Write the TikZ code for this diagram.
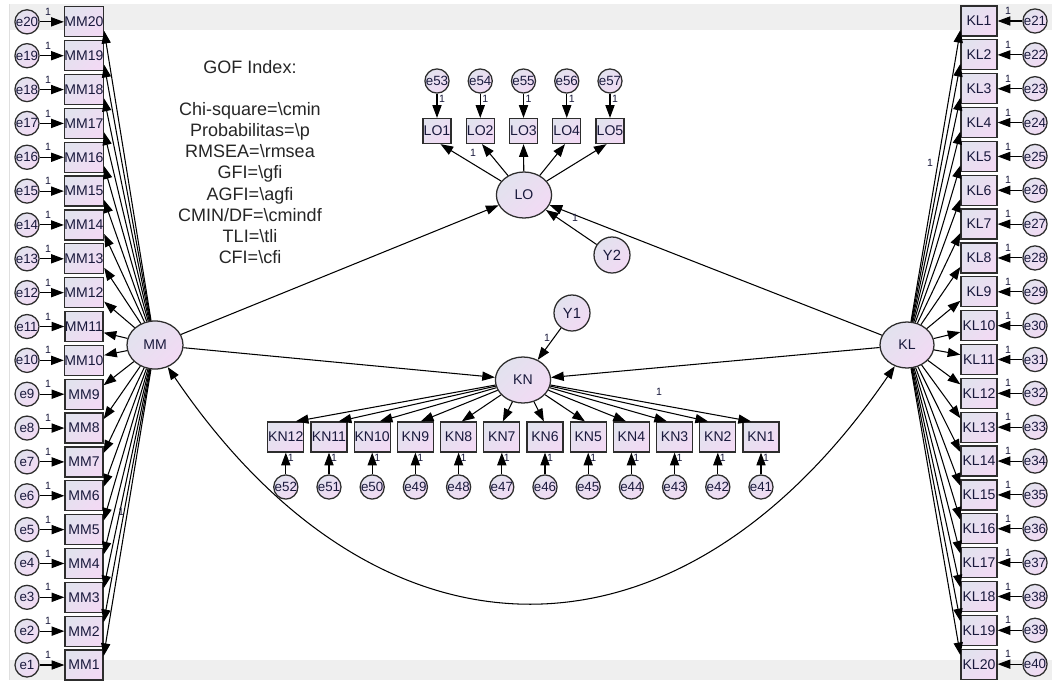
\documentclass[tikz,border=0pt]{standalone}
\usepackage{fontspec}
\setmainfont{Liberation Sans}
\usetikzlibrary{shapes.geometric,arrows.meta,calc}
\definecolor{fillA}{RGB}{226,226,238}
\definecolor{fillB}{RGB}{242,218,244}
\definecolor{bord}{RGB}{45,45,45}
\definecolor{band}{RGB}{239,239,239}
\definecolor{txt}{RGB}{25,25,60}
\tikzset{
  shadefill/.style={draw=bord, line width=0.9pt, top color=fillA, bottom color=fillB, shading angle=45, inner sep=0pt, text=txt, font=\fontsize{10}{11}\selectfont},
  mbox/.style={shadefill, rectangle, minimum width=0.95cm, minimum height=0.75cm},
  kbox/.style={shadefill, rectangle, minimum width=0.9cm, minimum height=0.75cm},
  lbox/.style={shadefill, rectangle, minimum width=0.7cm, minimum height=0.625cm},
  errc/.style={shadefill, circle, minimum size=0.6cm, font=\fontsize{9.5}{10}\selectfont},
  distc/.style={shadefill, circle, minimum size=0.9cm, font=\fontsize{10.5}{11}\selectfont},
  lat/.style={shadefill, ellipse, minimum width=1.38cm, minimum height=1.15cm},
  arr/.style={-{Triangle[length=9pt,width=6.5pt]}, line width=0.75pt, draw=black},
  dbl/.style={{Triangle[length=9pt,width=6.5pt]}-{Triangle[length=9pt,width=6.5pt]}, line width=0.75pt, draw=black},
  one/.style={font=\fontsize{7.5}{8}\selectfont, inner sep=0pt, text=txt},
}
\begin{document}
\begin{tikzpicture}[x=0.025cm, y=-0.025cm]
\useasboundingbox (0,0) rectangle (1052,680);
\fill[white] (0,0) rectangle (1052,680);
\fill[band] (9,4) rectangle (1052,30);
\fill[band] (9,660) rectangle (1052,680);
\draw[gray!25, line width=0.5pt] (9,4) -- (9,680);

% GOF text
\node[align=center, font=\fontsize{12.8}{15}\selectfont, text=black!85, inner sep=0pt] (gof) at (250,162)
  {GOF Index:\\ \mbox{}\\ Chi-square=\textbackslash cmin\\ Probabilitas=\textbackslash p\\ RMSEA=\textbackslash rmsea\\ GFI=\textbackslash gfi\\ AGFI=\textbackslash agfi\\ CMIN/DF=\textbackslash cmindf\\ TLI=\textbackslash tli\\ CFI=\textbackslash cfi};

% latent variables
\node[lat, minimum width=1.4cm, minimum height=1.2cm] (MM) at (155,345) {MM};
\node[lat, minimum width=1.35cm, minimum height=1.15cm] (KL) at (907,345) {KL};
\node[lat] (LO) at (524,195) {LO};
\node[lat] (KN) at (523,380) {KN};
\node[distc] (Y2) at (612,255) {Y2};
\node[distc] (Y1) at (572,313) {Y1};

% MM column
\foreach \i in {1,...,20}{
  \pgfmathsetmacro\yy{665-(\i-1)*33.85}
  \node[mbox] (MM\i) at (84,\yy) {MM\i};
  \node[errc] (e\i) at (27,\yy) {e\i};
  \draw[arr] (e\i) -- (MM\i);
  \node[one] at (48,\yy-10) {1};
}
% KL column
\foreach \i in {1,...,20}{
  \pgfmathsetmacro\yy{21+(\i-1)*33.85}
  \pgfmathtruncatemacro\ee{20+\i}
  \node[kbox] (KL\i) at (979,\yy) {KL\i};
  \node[errc] (e\ee) at (1035,\yy) {e\ee};
  \draw[arr] (e\ee) -- (KL\i);
  \node[one] at (1008,\yy-10) {1};
}
% KN row
\foreach \i in {1,...,12}{
  \pgfmathsetmacro\xx{761-(\i-1)*43.2}
  \pgfmathtruncatemacro\ee{40+\i}
  \node[kbox] (KN\i) at (\xx,437) {KN\i};
  \node[errc] (e\ee) at (\xx,487) {e\ee};
  \draw[arr] (e\ee) -- (KN\i);
  \node[one] at (\xx+5,458) {1};
}
% LO row
\foreach \i in {1,...,5}{
  \pgfmathsetmacro\xx{437+(\i-1)*43.25}
  \pgfmathtruncatemacro\ee{52+\i}
  \node[lbox] (LO\i) at (\xx,131) {LO\i};
  \node[errc] (e\ee) at (\xx,81) {e\ee};
  \draw[arr] (e\ee) -- (LO\i);
  \node[one] at (\xx+5,99) {1};
}

% loadings
\foreach \i in {1,...,20}{
  \pgfmathsetmacro\yy{665-(\i-1)*33.85}
  \pgfmathsetmacro\off{max(-9,min(9,(345-\yy)/3))}
  \draw[arr] (MM) -- ($(MM\i.east)+(0,\off)$);
}
\foreach \i in {1,...,20}{
  \pgfmathsetmacro\yy{21+(\i-1)*33.85}
  \pgfmathsetmacro\off{max(-9,min(9,(345-\yy)/3))}
  \draw[arr] (KL) -- ($(KL\i.west)+(0,\off)$);
}
\foreach \i in {1,...,12}{
  \pgfmathsetmacro\xx{761-(\i-1)*43.2}
  \pgfmathsetmacro\off{max(-10,min(10,(523-\xx)/20))}
  \draw[arr] (KN) -- ($(KN\i.north)+(\off,0)$);
}
\foreach \i in {1,...,5}{
  \pgfmathsetmacro\xx{437+(\i-1)*43.25}
  \pgfmathsetmacro\off{max(-5,min(5,(524-\xx)/25))}
  \draw[arr] (LO) -- ($(LO\i.south)+(\off,0)$);
}

% structural paths
\draw[arr] (MM) -- (LO);
\draw[arr] (MM) -- (KN);
\draw[arr] (KL) -- (LO);
\draw[arr] (KL) -- (KN);
\draw[arr] (Y2) -- (LO);
\draw[arr] (Y1) -- (KN);
\draw[dbl] (MM.-60) .. controls (380,680) and (680,680) .. (KL.-120);

% fixed-loading labels
\node[one] at (121,512) {1};
\node[one] at (930,163) {1};
\node[one] at (473,153) {1};
\node[one] at (659,392) {1};
\node[one] at (575,218) {1};
\node[one] at (547,338) {1};
\end{tikzpicture}
\end{document}
